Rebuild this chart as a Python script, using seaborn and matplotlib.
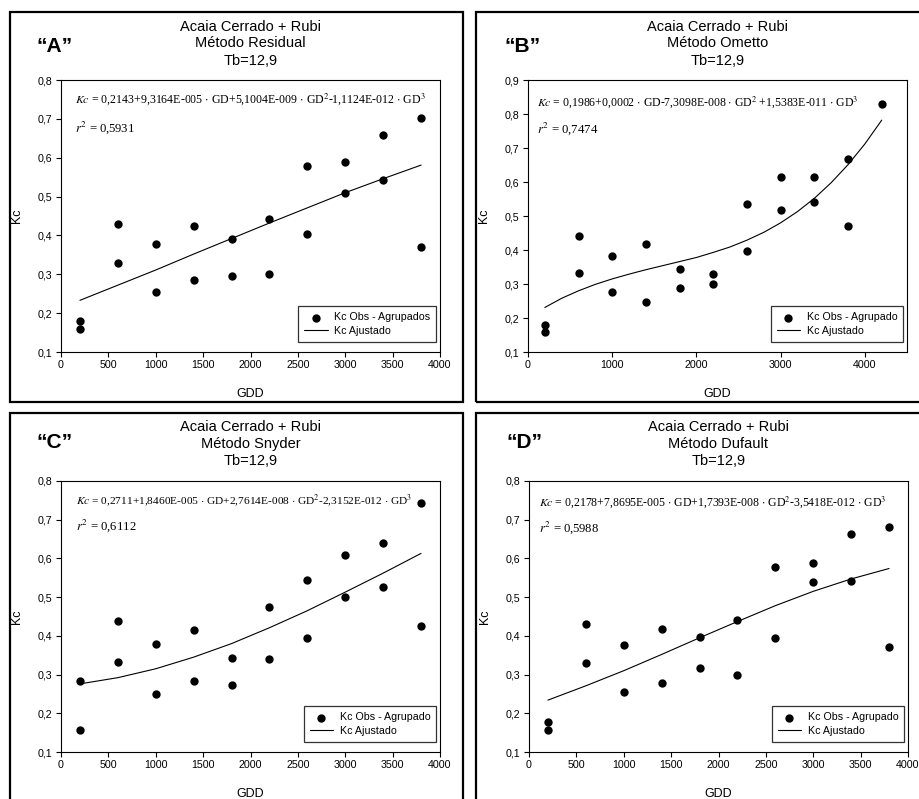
import matplotlib
matplotlib.use("Agg")
import matplotlib.pyplot as plt
import seaborn as sns
import pandas as pd
from matplotlib.patches import Rectangle
from matplotlib.ticker import FuncFormatter, MultipleLocator

# ---------------- data ----------------
gdd_obs = [200, 200, 600, 600, 1000, 1000, 1400, 1400, 1800, 1800,
           2200, 2200, 2600, 2600, 3000, 3000, 3400, 3400, 3800, 3800]
gdd_obs_b = gdd_obs + [4200]

kc_obs_a = [0.179, 0.158, 0.430, 0.329, 0.377, 0.255, 0.423, 0.285, 0.390, 0.296,
            0.441, 0.302, 0.578, 0.403, 0.588, 0.510, 0.658, 0.542, 0.701, 0.371]
kc_obs_b = [0.179, 0.159, 0.440, 0.331, 0.382, 0.276, 0.418, 0.246, 0.343, 0.289,
            0.328, 0.301, 0.535, 0.397, 0.615, 0.517, 0.615, 0.540, 0.668, 0.472, 0.830]
kc_obs_c = [0.284, 0.158, 0.438, 0.332, 0.378, 0.251, 0.416, 0.284, 0.344, 0.273,
            0.474, 0.339, 0.545, 0.395, 0.608, 0.501, 0.640, 0.525, 0.744, 0.425]
kc_obs_d = [0.178, 0.158, 0.430, 0.329, 0.376, 0.254, 0.419, 0.279, 0.398, 0.316,
            0.440, 0.299, 0.579, 0.394, 0.588, 0.539, 0.663, 0.542, 0.681, 0.371]

gdd_fit = [200, 600, 1000, 1400, 1800, 2200, 2600, 3000, 3400, 3800]
gdd_fit_b = [200, 400, 600, 800, 1000, 1200, 1400, 1600, 1800, 2000, 2200,
             2400, 2600, 2800, 3000, 3200, 3400, 3600, 3800, 4000, 4200]
kc_fit_a = [0.233, 0.272, 0.311, 0.352, 0.392, 0.432, 0.471, 0.510, 0.546, 0.581]
kc_fit_b = [0.231, 0.258, 0.280, 0.299, 0.315, 0.329, 0.342, 0.354, 0.366, 0.378, 0.393,
            0.409, 0.429, 0.452, 0.480, 0.513, 0.552, 0.598, 0.651, 0.712, 0.782]
kc_fit_c = [0.276, 0.292, 0.315, 0.345, 0.380, 0.421, 0.465, 0.513, 0.562, 0.613]
kc_fit_d = [0.234, 0.271, 0.310, 0.352, 0.395, 0.437, 0.478, 0.515, 0.547, 0.574]

panel_labels = ["\u201cA\u201d", "\u201cB\u201d", "\u201cC\u201d", "\u201cD\u201d"]
methods = ["Método Residual", "Método Ometto", "Método Snyder", "Método Dufault"]
title_line1 = "Acaia Cerrado + Rubi"
title_line3 = "Tb=12,9"
obs_labels = ["Kc Obs - Agrupados", "Kc Obs - Agrupado", "Kc Obs - Agrupado", "Kc Obs - Agrupado"]
fit_label = "Kc Ajustado"
equations = [
    r"$Kc$ = 0,2143+9,3164E-005 $\cdot$ GD+5,1004E-009 $\cdot$ GD$^2$-1,1124E-012 $\cdot$ GD$^3$",
    r"$Kc$ = 0,1986+0,0002 $\cdot$ GD-7,3098E-008 $\cdot$ GD$^2$ +1,5383E-011 $\cdot$ GD$^3$",
    r"$Kc$ = 0,2711+1,8460E-005 $\cdot$ GD+2,7614E-008 $\cdot$ GD$^2$-2,3152E-012 $\cdot$ GD$^3$",
    r"$Kc$ = 0,2178+7,8695E-005 $\cdot$ GD+1,7393E-008 $\cdot$ GD$^2$-3,5418E-012 $\cdot$ GD$^3$",
]
r2_values = ["0,5931", "0,7474", "0,6112", "0,5988"]

# ---------------- style ----------------
sns.set_theme(style="ticks")
plt.rcParams["font.family"] = ["Liberation Sans", "DejaVu Sans"]
plt.rcParams["mathtext.fontset"] = "stix"
plt.rcParams["text.color"] = "black"
plt.rcParams["axes.labelcolor"] = "black"
plt.rcParams["xtick.color"] = "black"
plt.rcParams["ytick.color"] = "black"

W, H = 919, 799
fig = plt.figure(figsize=(W / 100, H / 100), dpi=100)


def fx(px):
    return px / W


def fy(py):
    return 1 - py / H


# axes rectangles in pixels: left, top, right, bottom
axes_px = [(61, 80, 440, 352), (528, 80, 907, 352), (61, 481, 440, 752), (529, 481, 908, 752)]
borders_px = [(10, 12, 463, 402), (476, 12, 930, 402), (10, 413, 463, 810), (476, 413, 930, 810)]
label_px = [(37, 46), (505, 46), (37, 443), (507, 443)]
title_y = [(27, 43, 61), (27, 43, 61), (427, 444, 461), (427, 444, 461)]
eq_pos = [((0.037, 0.93), (0.037, 0.824)), ((0.024, 0.92), (0.024, 0.82)),
          ((0.040, 0.926), (0.040, 0.834)), ((0.026, 0.922), (0.026, 0.827))]
eq_sizes = [8.6, 8.5, 8.2, 8.5]
xlims = [4000, 4500, 4000, 4000]
xsteps = [500, 1000, 500, 500]
ylims = [0.8, 0.9, 0.8, 0.8]

obs_x = [gdd_obs, gdd_obs_b, gdd_obs, gdd_obs]
obs_y = [kc_obs_a, kc_obs_b, kc_obs_c, kc_obs_d]
fit_x = [gdd_fit, gdd_fit_b, gdd_fit, gdd_fit]
fit_y = [kc_fit_a, kc_fit_b, kc_fit_c, kc_fit_d]

comma_fmt = FuncFormatter(lambda v, p: f"{v:.1f}".replace(".", ","))
serif = ["Liberation Serif", "DejaVu Serif"]

for i in range(4):
    # panel border
    bl, bt, br, bb = borders_px[i]
    fig.patches.append(Rectangle((fx(bl), fy(bb)), fx(br - bl), (bb - bt) / H,
                                 transform=fig.transFigure, fill=False,
                                 edgecolor="black", linewidth=1.6, zorder=0))
    l, t, r, b = axes_px[i]
    ax = fig.add_axes([fx(l), fy(b), fx(r - l), (b - t) / H])
    ax.set_facecolor("white")

    df_obs = pd.DataFrame({"GDD": obs_x[i], "Kc": obs_y[i]})
    df_fit = pd.DataFrame({"GDD": fit_x[i], "Kc": fit_y[i]})
    sns.scatterplot(data=df_obs, x="GDD", y="Kc", ax=ax, color="black", s=36,
                    edgecolor="black", linewidth=0, label=obs_labels[i], zorder=3)
    sns.lineplot(data=df_fit, x="GDD", y="Kc", ax=ax, color="black", linewidth=0.8,
                 label=fit_label, estimator=None, sort=True, zorder=2)

    ax.set_xlim(0, xlims[i])
    ax.set_ylim(0.1, ylims[i])
    ax.xaxis.set_major_locator(MultipleLocator(xsteps[i]))
    ax.yaxis.set_major_locator(MultipleLocator(0.1))
    ax.yaxis.set_major_formatter(comma_fmt)
    for s in ax.spines.values():
        s.set_visible(True)
        s.set_color("black")
        s.set_linewidth(0.8)
    ax.tick_params(axis="both", direction="out", length=3.5, width=0.8,
                   labelsize=7.7, colors="black", pad=2.5)
    ax.set_xlabel("GDD", fontsize=9, color="black")
    ax.set_ylabel("Kc", fontsize=9, color="black")
    ax.xaxis.set_label_coords(0.5, -0.132)
    ax.yaxis.set_label_coords(-0.10, 0.5)

    leg = ax.legend(loc="lower right", bbox_to_anchor=(0.99, 0.037), borderaxespad=0,
                    frameon=True, fancybox=False, edgecolor="black", fontsize=7.7,
                    handlelength=2.2, labelspacing=0.35, borderpad=0.55,
                    handletextpad=0.6, markerscale=1.0)
    leg.get_frame().set_linewidth(0.9)

    (ex, ey), (rx, ry) = eq_pos[i]
    ax.text(ex, ey, equations[i], transform=ax.transAxes, ha="left", va="center",
            fontsize=eq_sizes[i], family=serif)
    ax.text(rx, ry, r"$r^2$ = " + r2_values[i], transform=ax.transAxes, ha="left",
            va="center", fontsize=9.2, family=serif)

    cx = fx((l + r) / 2)
    for line, yy in zip([title_line1, methods[i], title_line3], title_y[i]):
        fig.text(cx, fy(yy), line, ha="center", va="center", fontsize=10.5)

    lx, ly = label_px[i]
    fig.text(fx(lx), fy(ly), panel_labels[i], ha="left", va="center",
             fontsize=15, fontweight="bold")

fig.savefig("out.png", dpi=100)
